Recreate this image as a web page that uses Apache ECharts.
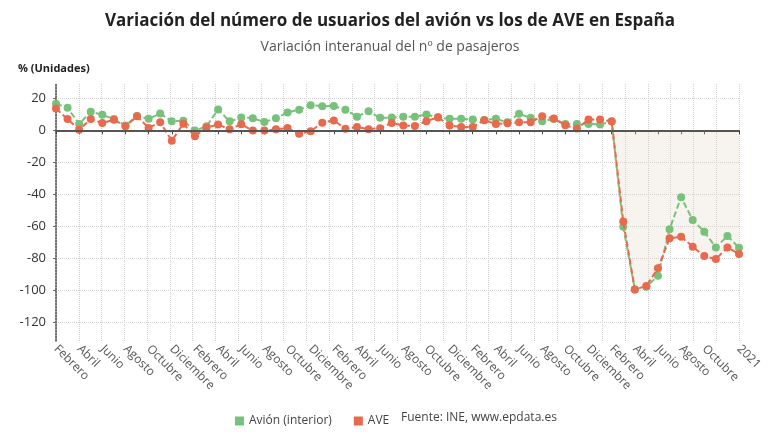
<!DOCTYPE html>
<html>
<head>
<meta charset="utf-8">
<script src="https://cdn.jsdelivr.net/npm/echarts@6/dist/echarts.min.js"></script>
<style>
  html, body { margin: 0; padding: 0; background: #fff; }
  #chart { width: 780px; height: 440px; }
</style>
</head>
<body>
<div id="chart"></div>
<script>
// Feb 2016 - Ene 2021, one point per month
let meses = [
  'Febrero', 'Marzo', 'Abril', 'Mayo', 'Junio', 'Julio', 'Agosto', 'Septiembre', 'Octubre', 'Noviembre', 'Diciembre',
  'Enero', 'Febrero', 'Marzo', 'Abril', 'Mayo', 'Junio', 'Julio', 'Agosto', 'Septiembre', 'Octubre', 'Noviembre', 'Diciembre',
  'Enero', 'Febrero', 'Marzo', 'Abril', 'Mayo', 'Junio', 'Julio', 'Agosto', 'Septiembre', 'Octubre', 'Noviembre', 'Diciembre',
  'Enero', 'Febrero', 'Marzo', 'Abril', 'Mayo', 'Junio', 'Julio', 'Agosto', 'Septiembre', 'Octubre', 'Noviembre', 'Diciembre',
  'Enero', 'Febrero', 'Marzo', 'Abril', 'Mayo', 'Junio', 'Julio', 'Agosto', 'Septiembre', 'Octubre', 'Noviembre', 'Diciembre',
  '2021'
]
let avion = [
  16.6, 14.1, 4.0, 11.6, 9.7, 7.0, 3.0, 9.0, 7.2, 10.5, 5.7,
  5.9, -0.2, 2.5, 13.0, 5.6, 8.0, 7.6, 5.2, 7.6, 11.2, 12.9, 15.7,
  15.1, 15.2, 12.9, 8.5, 12.0, 7.8, 8.0, 8.5, 8.5, 9.9, 8.0, 7.2,
  7.2, 6.7, 6.5, 7.2, 5.0, 10.3, 7.8, 5.7, 7.0, 4.0, 4.0, 4.0,
  3.7, 5.5, -60.4, -99.7, -98.0, -91.2, -62.0, -41.9, -56.2, -63.5, -73.4, -66.2,
  -73.6
]
let ave = [
  13.6, 7.0, 0.4, 7.0, 4.6, 6.6, 2.5, 8.8, 1.5, 5.0, -6.5,
  4.1, -3.8, 1.8, 3.6, 0.6, 3.8, -0.2, -0.2, 0.6, 1.4, -2.2, -0.6,
  4.8, 6.2, 1.0, 2.1, 0.7, 1.3, 4.6, 3.0, 2.7, 5.7, 8.2, 3.0,
  2.1, 2.1, 6.3, 4.0, 4.4, 5.0, 5.0, 8.8, 7.4, 3.1, 1.1, 6.7,
  6.7, 5.7, -57.2, -99.7, -97.5, -86.5, -67.7, -66.7, -72.9, -78.8, -80.7, -73.4,
  -77.5
]
let yTicks = [20, 0, -20, -40, -60, -80, -100, -120]
let inicioCovid = 48 // Febrero 2020

let verde = '#78c17b'
let naranja = '#e9694c'
let fuente = '"Open Sans", sans-serif'

let sombra = ave.map((v, i) => i >= inicioCovid ? v : null)
let ultimo = meses.length - 1
// month every two points, the last point carries the year
let showLabel = (i) => (i % 2 === 0 && i < ultimo - 1) || i === ultimo

let chart = echarts.init(document.getElementById('chart'))
let option = {
  backgroundColor: '#fff',
  animation: false,
  textStyle: { fontFamily: fuente },
  title: {
    text: 'Variación del número de usuarios del avión vs los de AVE en España',
    subtext: 'Variación interanual del nº de pasajeros',
    left: 'center',
    top: 8,
    itemGap: 10,
    textStyle: { fontFamily: fuente, fontSize: 17, fontWeight: 'bold', color: '#222' },
    subtextStyle: { fontFamily: fuente, fontSize: 14, color: '#555' }
  },
  legend: {
    data: ['Avión (interior)', 'AVE'],
    left: 230,
    top: 410,
    icon: 'rect',
    itemWidth: 9,
    itemHeight: 9,
    itemGap: 22,
    textStyle: { fontFamily: fuente, fontSize: 12, color: '#444' }
  },
  graphic: [
    {
      type: 'text',
      left: 18,
      top: 63,
      style: { text: '% (Unidades)', font: 'bold 11px ' + fuente, fill: '#222' }
    },
    {
      type: 'text',
      left: 401,
      top: 412,
      style: { text: 'Fuente: INE, www.epdata.es', font: '12px ' + fuente, fill: '#444' }
    }
  ],
  grid: {
    left: 56,
    right: 41,
    top: 84,
    bottom: 99
  },
  xAxis: [
    {
      type: 'category',
      data: meses,
      boundaryGap: false,
      axisLine: { lineStyle: { color: '#444', width: 2 } },
      axisTick: { interval: showLabel, length: 4, lineStyle: { color: '#444' } },
      axisLabel: {
        interval: showLabel,
        rotate: -45,
        margin: 6,
        fontSize: 12,
        color: '#555',
        fontFamily: fuente
      },
      splitLine: { show: false }
    },
    {
      // only for the vertical dotted grid
      type: 'value',
      min: 0,
      max: 30,
      interval: 1,
      position: 'bottom',
      axisLine: { show: false },
      axisTick: { show: false },
      axisLabel: { show: false },
      splitLine: { show: true, lineStyle: { color: '#d0d0d0', type: 'dotted', width: 1 } }
    }
  ],
  yAxis: {
    type: 'value',
    min: -132,
    max: 29,
    axisLine: { show: true, lineStyle: { color: '#444', type: 'dotted', width: 1.5 } },
    axisTick: { show: true, length: 3, customValues: yTicks, lineStyle: { color: '#666' } },
    axisLabel: { customValues: yTicks, fontSize: 13, color: '#333', margin: 10, fontFamily: fuente },
    splitLine: { show: true, lineStyle: { color: '#d0d0d0', type: 'dotted', width: 1 } }
  },
  series: [
    {
      name: 'sombra',
      type: 'line',
      data: sombra,
      symbol: 'none',
      lineStyle: { width: 0 },
      areaStyle: { color: 'rgba(228, 214, 200, 0.4)', origin: 0 },
      silent: true,
      z: 1,
      markLine: {
        silent: true,
        symbol: 'none',
        label: { show: false },
        lineStyle: { color: '#555', type: 'solid', width: 2 },
        data: [{ yAxis: 0 }]
      }
    },
    {
      name: 'Avión (interior)',
      type: 'line',
      data: avion,
      symbol: 'circle',
      symbolSize: 8,
      showAllSymbol: true,
      itemStyle: { color: verde },
      lineStyle: { color: verde, width: 2, type: [6, 3] },
      z: 3
    },
    {
      name: 'AVE',
      type: 'line',
      data: ave,
      symbol: 'circle',
      symbolSize: 8,
      showAllSymbol: true,
      itemStyle: { color: naranja },
      lineStyle: { color: naranja, width: 2, type: [6, 3] },
      z: 4
    }
  ]
}
chart.setOption(option)
</script>
</body>
</html>
